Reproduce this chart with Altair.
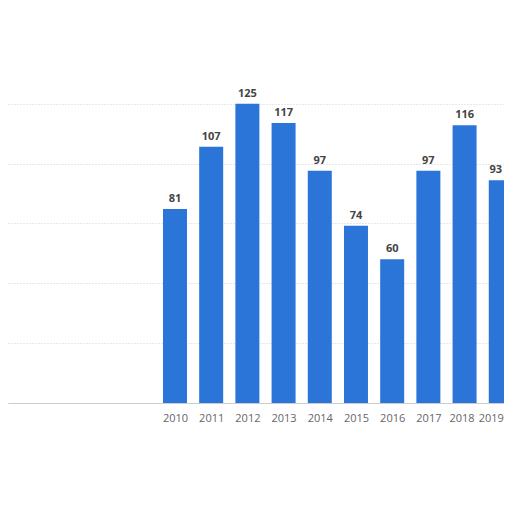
import altair as alt
import pandas as pd

years = [2010, 2011, 2012, 2013, 2014, 2015, 2016, 2017, 2018, 2019]
values = [81, 107, 125, 117, 97, 74, 60, 97, 116, 93]
grid_ticks = [0, 25, 50, 75, 100, 125]

df = pd.DataFrame({"year": years, "value": values})
last_year = years[-1]

x = alt.X("year:Q",
          scale=alt.Scale(domain=[2005.387, 2019.089], nice=False, zero=False, padding=0),
          axis=alt.Axis(values=years, format="d", title=None, grid=False,
                        ticks=False, labelFlush=False, labelPadding=9,
                        labelFontSize=11, labelColor="#666666",
                        labelFont="Open Sans",
                        labelOffset={"expr": f"datum.value == {last_year} ? -10 : "
                                             f"(datum.value == {last_year - 1} ? -3 : 0)"},
                        domainColor="#cccccc", domainWidth=1))
y = alt.Y("value:Q",
          scale=alt.Scale(domain=[0, 165], nice=False, padding=0),
          axis=alt.Axis(values=grid_ticks, title=None, labels=False, ticks=False,
                        domain=False, grid=True, gridColor="#d0d0d0",
                        gridDash=[1, 2], gridWidth=1))

base = alt.Chart(df)
bars = base.mark_bar(size=24, color="#2b75d8", clip=True).encode(x=x, y=y)

labels = base.transform_filter(f"datum.year < {last_year}").mark_text(
    dy=-10, fontSize=11, fontWeight="bold", color="#444444", font="Open Sans"
).encode(x=x, y=y, text=alt.Text("value:Q"))

last_label = base.transform_filter(f"datum.year == {last_year}").mark_text(
    dy=-10, dx=-5, fontSize=11, fontWeight="bold", color="#444444", font="Open Sans"
).encode(x=x, y=y, text=alt.Text("value:Q"))

chart = (bars + labels + last_label).properties(
    width=496, height=395,
    autosize=alt.AutoSizeParams(type="none"),
    padding={"left": 0, "top": 0, "right": 0, "bottom": 40},
    background="white"
).configure_view(stroke=None)

chart.save("out.html", embed_options={"renderer": "svg", "actions": False})
